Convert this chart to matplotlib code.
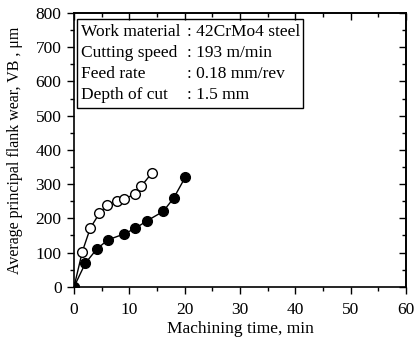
import matplotlib
matplotlib.use("Agg")
import matplotlib.pyplot as plt
from matplotlib.patches import Rectangle
from matplotlib.ticker import MultipleLocator

plt.rcParams['font.family'] = ['Liberation Serif', 'DejaVu Serif']

# open circles
t_open = [0, 1.5, 2.95, 4.6, 6.0, 7.8, 9.0, 11.0, 12.1, 14.1]
vb_open = [0, 103, 172, 215, 239, 252, 257, 270, 293, 333]
# filled circles
t_fill = [0, 2.05, 4.1, 6.1, 9.0, 11.1, 13.1, 16.1, 18.0, 20.1]
vb_fill = [0, 69, 110, 137, 154, 171, 192, 220, 259, 320]

cond_names = ["Work material", "Cutting speed", "Feed rate", "Depth of cut"]
cond_values = [": 42CrMo4 steel", ": 193 m/min", ": 0.18 mm/rev", ": 1.5 mm"]

fig = plt.figure(figsize=(4.16, 3.41), dpi=100)
ax = fig.add_axes([0.178, 0.159, 0.798, 0.803])

ax.plot(t_open, vb_open, 'k-', marker='o', mfc='white', mec='black',
        ms=7, lw=1, mew=1)
ax.plot(t_fill, vb_fill, 'k-', marker='o', mfc='black', mec='black',
        ms=7, lw=1, mew=1)

ax.set_xlim(0, 60)
ax.set_ylim(0, 800)
ax.xaxis.set_major_locator(MultipleLocator(10))
ax.xaxis.set_minor_locator(MultipleLocator(5))
ax.yaxis.set_major_locator(MultipleLocator(100))
ax.yaxis.set_minor_locator(MultipleLocator(50))
ax.tick_params(which='both', direction='out', labelsize=12.5, width=1)
ax.tick_params(which='major', length=5)
ax.tick_params(which='minor', length=3)
ax.tick_params(axis='x', which='major', pad=6)
ax.tick_params(axis='y', which='major', pad=4)
for s in ax.spines.values():
    s.set_linewidth(1.2)

# inward ticks on top and right
top = ax.secondary_xaxis('top')
top.xaxis.set_major_locator(MultipleLocator(10))
top.xaxis.set_minor_locator(MultipleLocator(5))
top.tick_params(which='both', direction='in', labeltop=False, width=1)
top.tick_params(which='major', length=5)
top.tick_params(which='minor', length=3)
right = ax.secondary_yaxis('right')
right.yaxis.set_major_locator(MultipleLocator(100))
right.yaxis.set_minor_locator(MultipleLocator(50))
right.tick_params(which='both', direction='in', labelright=False, width=1)
right.tick_params(which='major', length=5)
right.tick_params(which='minor', length=3)
for sec in (top, right):
    for s in sec.spines.values():
        s.set_linewidth(1.2)

ax.set_xlabel("Machining time, min", fontsize=12.5, labelpad=2)
ax.set_ylabel("Average principal flank wear, VB , μm", fontsize=11.5, labelpad=9)

# condition box
ax.add_patch(Rectangle((0.009, 0.653), 0.681, 0.325, transform=ax.transAxes,
                       fill=False, ec='black', lw=1))
for i, (n, v) in enumerate(zip(cond_names, cond_values)):
    y = 0.930 - i * 0.0767
    ax.text(0.02, y, n, transform=ax.transAxes, fontsize=12.5, va='center')
    ax.text(0.34, y, v, transform=ax.transAxes, fontsize=12.5, va='center')

fig.savefig("out.png", dpi=100)
